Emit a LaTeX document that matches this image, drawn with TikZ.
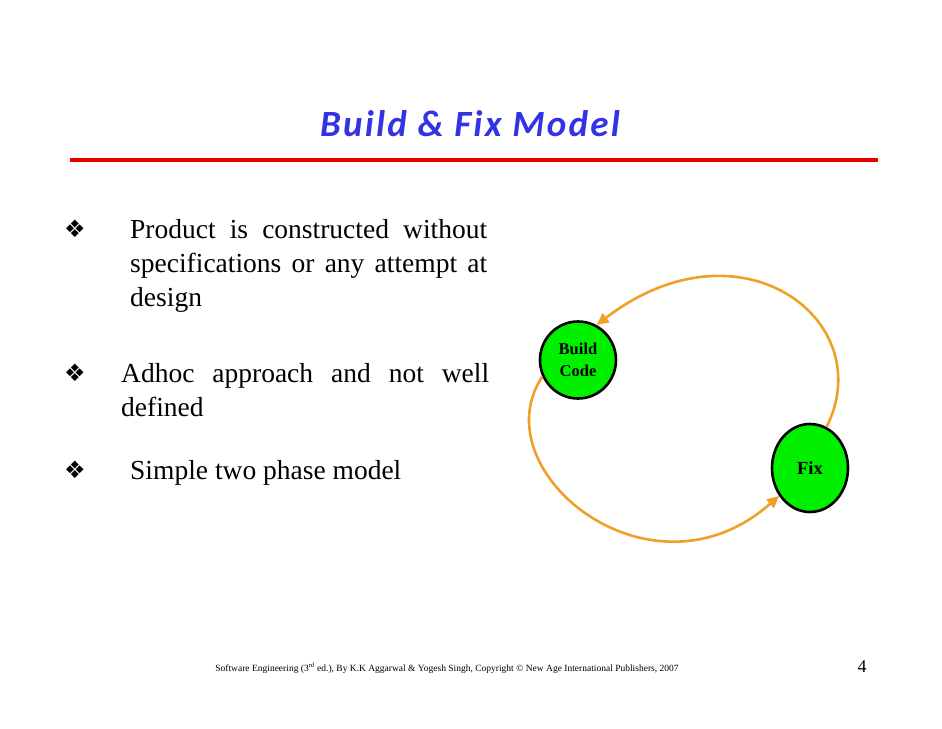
\documentclass[tikz,border=0pt]{standalone}
\usepackage{fontspec}
\setmainfont{Liberation Serif}
\newfontfamily\titlefont[LetterSpace=6]{Carlito}
\newfontfamily\symfont{DejaVu Sans}
\usetikzlibrary{arrows.meta,shapes.geometric}
\definecolor{tblue}{RGB}{50,50,230}
\definecolor{torange}{RGB}{240,160,40}
\definecolor{tgreen}{RGB}{0,240,0}
\tikzset{
  phase/.style={draw=black, line width=2.6pt, fill=tgreen, font=\bfseries\fontsize{16.5}{22}\selectfont, align=center, inner sep=0pt},
  loop/.style={draw=torange, line width=2.6pt, -{Triangle[length=12pt,width=11pt]}},
  bul/.style={anchor=north west, font=\fontsize{27.5}{34}\selectfont, align=left, inner sep=0pt},
  dia/.style={anchor=north west, font=\symfont\fontsize{24}{26}\selectfont, inner sep=0pt}
}
\begin{document}
\begin{tikzpicture}[x=1pt,y=-1pt]
\useasboundingbox (0,0) rectangle (942,728);
\node[font=\titlefont\bfseries\itshape\fontsize{37}{40}\selectfont, text=tblue] (title) at (470,124) {Build \& Fix Model};
\draw[red!90!black, line width=3.5pt] (70,160) -- (878,160);

\node[dia] (d1) at (64,220) {❖};
\node[bul] (b1) at (130,219) {\makebox[357pt][s]{Product is constructed without}\\\makebox[357pt][s]{specifications or any attempt at}\\design};
\node[dia] (d2) at (64,364) {❖};
\node[bul] (b2) at (121,363) {\makebox[368pt][s]{Adhoc approach and not well}\\defined};
\node[dia] (d3) at (64,461) {❖};
\node[bul] (b3) at (130,460) {Simple two phase model};

\node[phase, shape=ellipse, minimum width=76pt, minimum height=77pt] (bc) at (578,360) {Build\\Code};
\node[phase, shape=ellipse, minimum width=76pt, minimum height=88pt, font=\bfseries\fontsize{18.5}{22}\selectfont] (fx) at (810,468) {Fix};

\draw[loop] (fx.68) .. controls (880,320) and (740,215) .. (bc.62);
\draw[loop] (bc.205) .. controls (480,470) and (650,610) .. (fx.222);

\node[font=\fontsize{9.5}{11}\selectfont] (foot) at (447,668) {Software Engineering (3\textsuperscript{rd} ed.), By K.K Aggarwal \& Yogesh Singh, Copyright © New Age International Publishers, 2007};
\node[font=\fontsize{18}{20}\selectfont] (pg) at (862,667) {4};
\end{tikzpicture}
\end{document}
